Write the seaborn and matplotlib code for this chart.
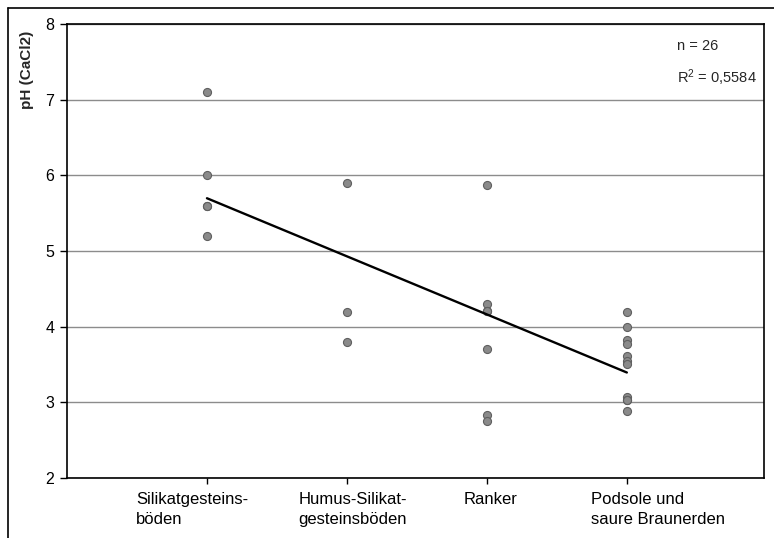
import numpy as np
import pandas as pd
import matplotlib
matplotlib.use("Agg")
import matplotlib.pyplot as plt
import matplotlib.transforms as mtransforms
from matplotlib.lines import Line2D
import seaborn as sns

# Soil groups (x axis) and measured pH (CaCl2) values per group
categories = [
    "Silikatgesteins-\nböden",
    "Humus-Silikat-\ngesteinsböden",
    "Ranker",
    "Podsole und\nsaure Braunerden",
]
ph_silikat = [7.1, 6.0, 5.6, 5.6, 5.2]
ph_humus = [5.9, 4.2, 3.8]
ph_ranker = [5.87, 4.3, 4.21, 4.21, 3.7, 2.83, 2.75]
ph_podsol = [4.19, 4.0, 3.82, 3.77, 3.61, 3.55, 3.51, 3.075, 3.03, 3.03, 2.89]
y_ticks = [2, 3, 4, 5, 6, 7, 8]
n_text = "n = 26"
r2_text = "R$^2$ = 0,5584"

groups = [ph_silikat, ph_humus, ph_ranker, ph_podsol]
df = pd.DataFrame({
    "Boden": [c for c, g in zip(categories, groups) for _ in g],
    "pH": [v for g in groups for v in g],
    "idx": [i for i, g in enumerate(groups) for _ in g],
})

# Linear trend of pH over the ordered soil groups
slope, intercept = np.polyfit(df["idx"], df["pH"], 1)
x_fit = np.array([0, len(categories) - 1])
y_fit = intercept + slope * x_fit

sns.set_theme(style="white")
plt.rcParams["font.family"] = ["Liberation Sans", "DejaVu Sans"]
plt.rcParams["mathtext.fontset"] = "custom"
plt.rcParams["mathtext.rm"] = "Liberation Sans"
plt.rcParams["mathtext.it"] = "Liberation Sans"
plt.rcParams["mathtext.default"] = "regular"

W, H = 774, 538
fig = plt.figure(figsize=(W / 100, H / 100), dpi=100)
fig.patch.set_facecolor("white")
ax = fig.add_axes([67 / W, 1 - 478 / H, (764 - 67) / W, (478 - 24) / H])

ax.set_axisbelow(True)
ax.yaxis.grid(True, color="#8c8c8c", linewidth=1.0)
ax.xaxis.grid(False)

sns.stripplot(data=df, x="Boden", y="pH", order=categories, jitter=False,
              color="#8a8a8a", edgecolor="#5f5f5f", linewidth=0.8, size=5.8,
              ax=ax, zorder=3)
ax.plot(x_fit, y_fit, color="black", linewidth=1.7, zorder=4)

ax.set_xlim(-1, 3.98)
ax.set_ylim(2, 8)
ax.set_yticks(y_ticks)
ax.set_yticklabels([str(t) for t in y_ticks])
ax.set_xlabel("")
ax.set_ylabel("")

for s in ax.spines.values():
    s.set_visible(True)
    s.set_color("black")
    s.set_linewidth(1.2)

ax.tick_params(axis="y", direction="out", length=5, width=1, colors="black",
               labelsize=11.5, pad=4, left=True)
ax.tick_params(axis="x", direction="out", length=4, width=1, colors="black",
               labelsize=12, pad=6, bottom=True)

offsets_px = [-15, 6, 4, 31]
for lbl, dx in zip(ax.get_xticklabels(), offsets_px):
    lbl.set_multialignment("left")
    lbl.set_ha("center")
    lbl.set_va("top")
    lbl.set_linespacing(1.45)
    lbl.set_transform(lbl.get_transform() +
                      mtransforms.ScaledTranslation(dx / 100, 0, fig.dpi_scale_trans))

fig.text(27 / W, 1 - 31 / H, "pH (CaCl2)", rotation=90, va="top", ha="center",
         fontsize=11, fontweight="bold")
fig.text(677 / W, 1 - 46 / H, n_text, va="center", ha="left", fontsize=10.5)
fig.text(677 / W, 1 - 78 / H, r2_text, va="center", ha="left", fontsize=10.5)

# outer chart border (left and top edges)
fig.add_artist(Line2D([8 / W, 8 / W], [0, 1 - 8 / H], color="black",
                      linewidth=1.2, transform=fig.transFigure))
fig.add_artist(Line2D([8 / W, 1], [1 - 8 / H, 1 - 8 / H], color="black",
                      linewidth=1.2, transform=fig.transFigure))

fig.savefig("out.png", dpi=100)
